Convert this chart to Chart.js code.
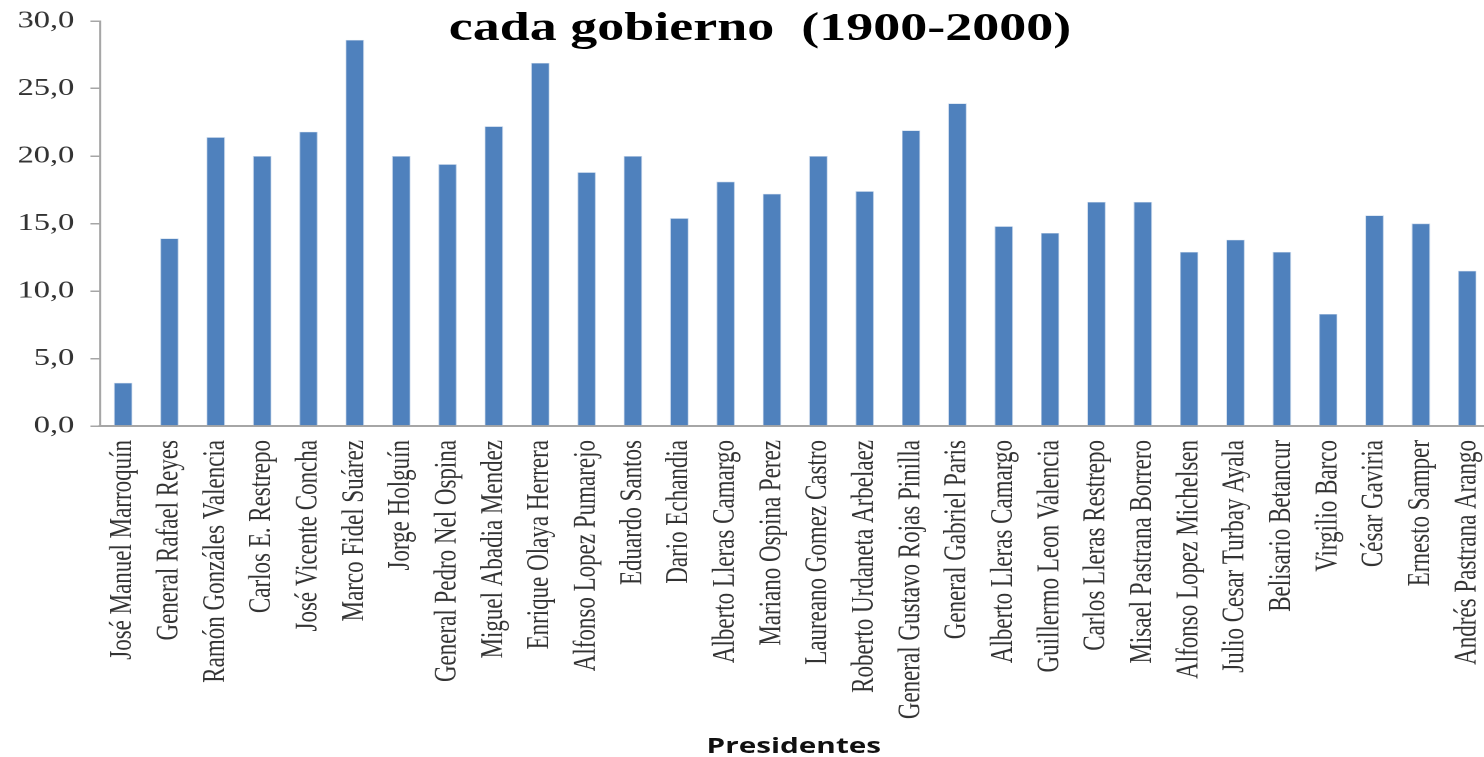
<!DOCTYPE html>
<html>
<head>
<meta charset="utf-8">
<script src="https://cdn.jsdelivr.net/npm/chart.js@4"></script>
<style>
  html, body { margin: 0; padding: 0; background: #fff; overflow: hidden; }
  /* the original picture is stretched sideways, so the whole chart is too */
  #wrap { position: relative; width: 1104px; height: 757px; transform: scaleX(1.35); transform-origin: 0 0; }
  #title { position: absolute; left: 563px; top: 7px; transform: translateX(-50%); white-space: pre;
           font: bold 40px/40px 'Liberation Serif', serif; color: #000; }
  #xTitle { position: absolute; left: 588px; top: 733px; transform: translateX(-50%); white-space: nowrap;
            font: bold 22px/22px 'Open Sans', sans-serif; color: #111; }
</style>
</head>
<body>
<div id="wrap">
  <canvas id="chart"></canvas>
  <div id="title">cada gobierno  (1900-2000)</div>
  <div id="xTitle">Presidentes</div>
</div>
<script>
'use strict'

const presidents = [
    'José Manuel Marroquín', 'General Rafael Reyes', 'Ramón Gonzáles Valencia', 'Carlos E. Restrepo',
    'José Vicente Concha', 'Marco Fidel Suárez', 'Jorge Holguín', 'General Pedro Nel Ospina',
    'Miguel Abadia Mendez', 'Enrique Olaya Herrera', 'Alfonso Lopez Pumarejo', 'Eduardo Santos',
    'Dario Echandia', 'Alberto Lleras Camargo', 'Mariano Ospina Perez', 'Laureano Gomez Castro',
    'Roberto Urdaneta Arbelaez', 'General Gustavo Rojas Pinilla', 'General Gabriel Paris', 'Alberto Lleras Camargo',
    'Guillermo Leon Valencia', 'Carlos Lleras Restrepo', 'Misael Pastrana Borrero', 'Alfonso Lopez Michelsen',
    'Julio Cesar Turbay Ayala', 'Belisario Betancur', 'Virgilio Barco', 'César Gaviria',
    'Ernesto Samper', 'Andrés Pastrana Arango'
];
const values = [
    3.2, 13.9, 21.4, 20.0, 21.8, 28.6, 20.0, 19.4, 22.2, 26.9,
    18.8, 20.0, 15.4, 18.1, 17.2, 20.0, 17.4, 21.9, 23.9, 14.8,
    14.3, 16.6, 16.6, 12.9, 13.8, 12.9, 8.3, 15.6, 15.0, 11.5
];
const yTicks = [0, 5, 10, 15, 20, 25, 30];

const axisGray = '#a6a6a6';

function formatTick(value){
    return value.toFixed(1).replace('.', ',');
}

// keep the plot area where the picture has it, whatever the labels ask for
function noScalePadding(scale){
    scale.paddingLeft = 0;
    scale.paddingRight = 0;
    scale.paddingTop = 0;
    scale.paddingBottom = 0;
}

new Chart(document.getElementById('chart'), {
    type: 'bar',
    data: {
        labels: presidents,
        datasets: [{
            data: values,
            backgroundColor: '#4f81bd',
            borderColor: '#c6d6ea',
            borderWidth: 0.6,
            categoryPercentage: 1,
            barPercentage: 0.4
        }]
    },
    options: {
        responsive: true,
        maintainAspectRatio: false,
        devicePixelRatio: 2,
        animation: false,
        layout: { padding: { top: 21, right: 0, bottom: 0, left: 0 } },
        plugins: {
            legend: { display: false },
            tooltip: { enabled: false }
        },
        scales: {
            x: {
                grid: { display: false, drawTicks: false },
                border: { color: axisGray, width: 2 },
                ticks: {
                    autoSkip: false,
                    minRotation: 90,
                    maxRotation: 90,
                    padding: 14,
                    color: '#333',
                    font: { family: "'Liberation Serif', serif", size: 23 }
                },
                afterFit: function(scale){
                    scale.height = 331;
                    noScalePadding(scale);
                }
            },
            y: {
                min: 0,
                max: 30,
                afterBuildTicks: function(scale){
                    scale.ticks = yTicks.map(v => ({ value: v }));
                },
                grid: {
                    drawOnChartArea: false,
                    drawTicks: true,
                    tickLength: 7,
                    color: axisGray,
                    lineWidth: 1.5
                },
                border: { color: axisGray, width: 1.5 },
                ticks: {
                    padding: 12,
                    color: '#333',
                    font: { family: "'Liberation Serif', serif", size: 24 },
                    callback: formatTick
                },
                afterFit: function(scale){
                    scale.width = 74;
                    noScalePadding(scale);
                }
            }
        }
    }
});
</script>
</body>
</html>
